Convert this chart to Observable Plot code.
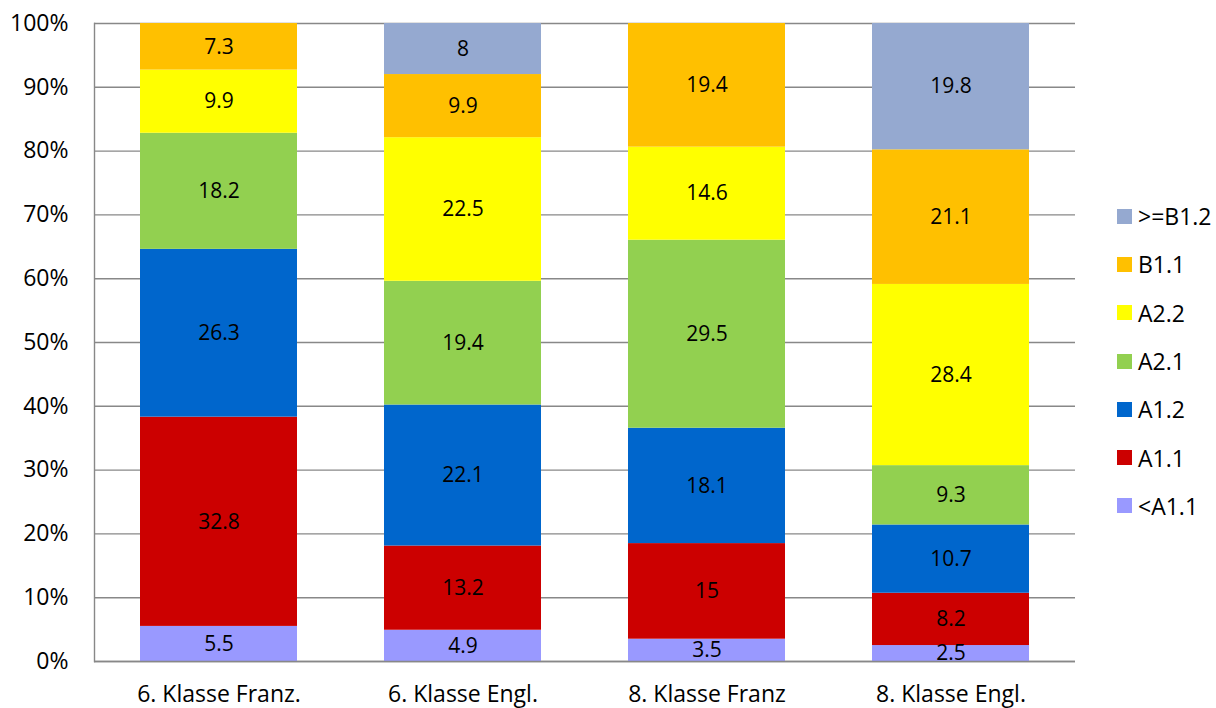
<!DOCTYPE html>
<html>
<head>
<meta charset="utf-8">
<script src="https://cdn.jsdelivr.net/npm/d3@7"></script>
<script src="https://cdn.jsdelivr.net/npm/@observablehq/plot@0.6"></script>
<style>
  html, body { margin: 0; padding: 0; background: #fff; }
  #wrap { position: relative; width: 1216px; height: 708px; font-family: "Open Sans", sans-serif; }
  #legend { position: absolute; left: 1117px; top: 192px; }
  .item { display: flex; align-items: center; height: 48.3px; font-size: 23px; color: #000; }
  .sw { width: 15px; height: 15px; margin-right: 6px; flex: none; }
</style>
</head>
<body>
<div id="wrap"><div id="chart"></div><div id="legend"></div></div>
<script>
const categories = ["6. Klasse Franz.", "6. Klasse Engl.", "8. Klasse Franz", "8. Klasse Engl."];
const levels = ["<A1.1", "A1.1", "A1.2", "A2.1", "A2.2", "B1.1", ">=B1.2"];
const levelColors = ["#9999FF", "#CC0000", "#0066CC", "#92D050", "#FFFF00", "#FFC000", "#95A9D0"];
// values per level, in category order
const valLtA11 = [5.5, 4.9, 3.5, 2.5];
const valA11   = [32.8, 13.2, 15, 8.2];
const valA12   = [26.3, 22.1, 18.1, 10.7];
const valA21   = [18.2, 19.4, 29.5, 9.3];
const valA22   = [9.9, 22.5, 14.6, 28.4];
const valB11   = [7.3, 9.9, 19.4, 21.1];
const valGeB12 = [0, 8, 0, 19.8];
const yTicks = [0, 0.1, 0.2, 0.3, 0.4, 0.5, 0.6, 0.7, 0.8, 0.9, 1];

const series = [valLtA11, valA11, valA12, valA21, valA22, valB11, valGeB12];
const data = [];
categories.forEach((c, i) => {
  levels.forEach((l, j) => {
    const v = series[j][i];
    if (v > 0) data.push({cat: c, level: l, value: v});
  });
});

const stackOpts = {x: "cat", y: "value", z: "level", order: levels, offset: "normalize"};

const chart = Plot.plot({
  width: 1216,
  height: 708,
  marginLeft: 94,
  marginRight: 141,
  marginTop: 23,
  marginBottom: 47,
  style: {fontFamily: "'Open Sans', sans-serif", fontSize: "23px", color: "#000", background: "#fff"},
  x: {domain: categories, paddingInner: 0.355, paddingOuter: 0.18, label: null},
  y: {domain: [0, 1], label: null},
  color: {domain: levels, range: levelColors},
  marks: [
    Plot.gridY(yTicks, {stroke: "#888", strokeOpacity: 1, strokeWidth: 1.4}),
    Plot.barY(data, Plot.stackY({...stackOpts, fill: "level"})),
    Plot.text(data, Plot.stackY({...stackOpts, text: d => String(d.value), fill: "#000", fontSize: 21})),
    Plot.ruleY([0], {stroke: "#888", strokeWidth: 1.6}),
    Plot.frame({anchor: "left", stroke: "#888", strokeWidth: 1.4}),
    Plot.axisY(yTicks, {tickSize: 0, tickPadding: 26, tickFormat: d3.format(".0%"), fontSize: 23, label: null}),
    Plot.axisX({tickSize: 0, tickPadding: 24, fontSize: 23, label: null})
  ]
});
document.getElementById("chart").appendChild(chart);

const legend = document.getElementById("legend");
levels.slice().reverse().forEach(l => {
  const item = document.createElement("div");
  item.className = "item";
  const sw = document.createElement("div");
  sw.className = "sw";
  sw.style.background = levelColors[levels.indexOf(l)];
  const t = document.createElement("span");
  t.textContent = l;
  item.appendChild(sw);
  item.appendChild(t);
  legend.appendChild(item);
});
</script>
</body>
</html>
